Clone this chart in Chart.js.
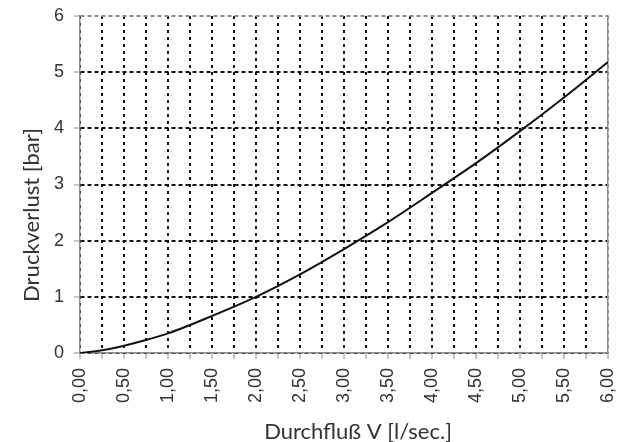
<!DOCTYPE html>
<html lang="de">
<head>
<meta charset="UTF-8"/>
<title>Druckverlust</title>
<script src="https://cdn.jsdelivr.net/npm/chart.js@4.4.2/dist/chart.umd.min.js"></script>
<style>
html,body{margin:0;padding:0;background:#fff}
#wrap{width:619px;height:442px}
</style>
</head>
<body>
<div id="wrap"><canvas id="chart" width="619" height="442"></canvas></div>
<script>
// Durchfluß [l/sec.] und Druckverlust [bar]
const flow=[0,0.25,0.5,0.75,1,1.5,2,2.5,3,3.5,4,4.5,5,5.5,6];
const loss=[0,0.05,0.13,0.23,0.35,0.66,1.0,1.4,1.85,2.33,2.85,3.38,3.95,4.55,5.18];
const yTicks=[0,1,2,3,4,5,6];
const xTitle='Durchfluß V [l/sec.]';
const yTitle='Druckverlust [bar]';

const fmt=v=>v.toFixed(2).replace('.',',');
const grey='#8c8c8c';
const txt='#333';
const arial='"Liberation Sans", Arial, sans-serif';
const titleFont='22px Lato, "Open Sans", sans-serif';
const noPad=s=>{s.paddingTop=0;s.paddingBottom=0;s.paddingLeft=0;s.paddingRight=0;};

// axis titles sit like in the original (not centred on the plot)
const axisTitles={
  id:'axisTitles',
  afterDraw(chart){
    const c=chart.ctx;
    c.save();
    c.font=titleFont;c.fillStyle=txt;c.textAlign='center';c.textBaseline='alphabetic';
    c.fillText(xTitle,358,439);
    c.translate(39,215);c.rotate(-Math.PI/2);
    c.fillText(yTitle,0,0);
    c.restore();
  }
};

new Chart(document.getElementById('chart'),{
  type:'line',
  data:{datasets:[{
    data:flow.map((x,i)=>({x,y:loss[i]})),
    borderColor:'#111',borderWidth:2,pointRadius:0,
    cubicInterpolationMode:'monotone',fill:false
  }]},
  options:{
    responsive:false,animation:false,
    layout:{padding:{left:0,right:11,top:16,bottom:0}},
    plugins:{legend:{display:false},tooltip:{enabled:false}},
    scales:{
      x:{type:'linear',min:0,max:6,
        afterBuildTicks:s=>{s.ticks=[];for(let i=0;i<=24;i++)s.ticks.push({value:i*0.25});},
        ticks:{autoSkip:false,minRotation:90,maxRotation:90,color:txt,padding:9,
          font:{family:arial,size:18},
          callback:v=>(Math.round(v*100)%50===0)?fmt(v):''},
        grid:{color:c=>c.tick&&c.tick.value>=6?grey:'#111',lineWidth:2,tickColor:grey,tickLength:6,tickWidth:1,tickBorderDash:[]},
        border:{color:grey,width:1.5,dash:[3,4]},
        afterFit:s=>{s.height=89;noPad(s);}
      },
      y:{min:0,max:6,
        afterBuildTicks:s=>{s.ticks=yTicks.map(v=>({value:v}));},
        ticks:{color:txt,padding:10,font:{family:arial,size:18}},
        grid:{color:c=>c.tick&&c.tick.value>=6?grey:'#111',lineWidth:2,tickColor:grey,tickLength:6,tickWidth:1,tickBorderDash:[]},
        border:{color:grey,width:1.5,dash:[4,3]},
        afterFit:s=>{s.width=80;noPad(s);}
      },
      y2:{position:'right',min:0,max:6,
        ticks:{display:false},
        grid:{drawOnChartArea:false,drawTicks:false},
        border:{color:grey,width:1.5},
        afterFit:s=>{s.width=0;noPad(s);}
      }
    }
  },
  plugins:[axisTitles]
});
</script>
</body>
</html>
